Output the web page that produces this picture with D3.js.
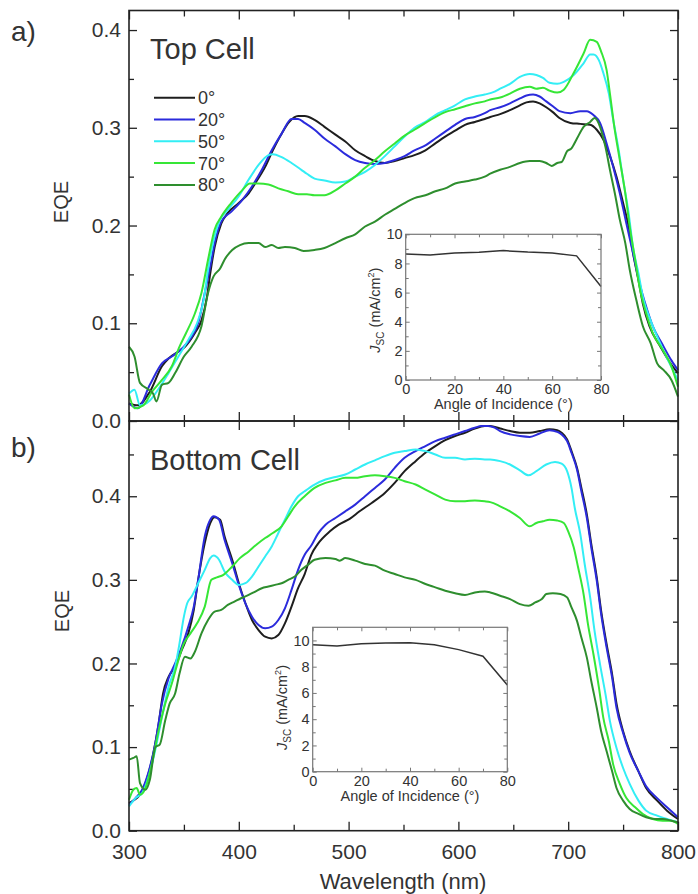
<!DOCTYPE html>
<html>
<head>
<meta charset="utf-8">
<script src="https://cdn.jsdelivr.net/npm/d3@7"></script>
<style>
  body { margin: 0; background: #fff; }
  svg { display: block; }
  text { font-family: "Liberation Sans", Arial, Helvetica, sans-serif; fill: #333; }
</style>
</head>
<body>
<script>
// ---------- data ----------
const angleLabels = ["0°", "20°", "50°", "70°", "80°"];

// EQE spectra of the top cell, [wavelength (nm), EQE]
const top0 = [[300,0.018],[308,0.016],[319,0.030],[330,0.056],[336,0.064],[345,0.071],[351,0.076],[360,0.090],[366,0.103],[371,0.127],[374,0.151],[378,0.178],[384,0.202],[390,0.213],[400,0.223],[409,0.233],[416,0.245],[424,0.260],[431,0.277],[439,0.294],[446,0.306],[454,0.312],[460,0.312],[469,0.308],[478,0.301],[488,0.293],[497,0.286],[506,0.277],[515,0.271],[524,0.266],[533,0.264],[542,0.266],[551,0.269],[560,0.272],[570,0.277],[579,0.284],[588,0.291],[597,0.297],[606,0.303],[615,0.306],[624,0.309],[629,0.311],[638,0.314],[647,0.318],[656,0.323],[662,0.326],[668,0.327],[674,0.325],[680,0.321],[686,0.316],[692,0.310],[702,0.305],[711,0.304],[720,0.303],[726,0.298],[732,0.288],[738,0.271],[744,0.250],[750,0.223],[755,0.199],[759,0.172],[764,0.144],[768,0.120],[774,0.097],[784,0.076],[793,0.059],[800,0.049]];
const top20 = [[300,0.018],[308,0.013],[319,0.037],[330,0.059],[339,0.066],[348,0.074],[357,0.086],[363,0.100],[369,0.131],[374,0.158],[378,0.182],[384,0.204],[393,0.214],[403,0.226],[412,0.240],[421,0.257],[430,0.277],[439,0.294],[448,0.309],[454,0.309],[460,0.305],[469,0.298],[478,0.289],[488,0.281],[497,0.273],[506,0.267],[515,0.264],[524,0.263],[533,0.264],[542,0.267],[551,0.271],[560,0.277],[570,0.282],[579,0.289],[588,0.296],[597,0.303],[606,0.309],[615,0.311],[624,0.315],[629,0.318],[638,0.321],[647,0.325],[656,0.330],[662,0.333],[668,0.334],[674,0.332],[680,0.327],[686,0.322],[692,0.317],[702,0.315],[711,0.317],[717,0.317],[723,0.313],[729,0.305],[735,0.284],[741,0.260],[747,0.233],[753,0.202],[759,0.172],[765,0.141],[771,0.117],[777,0.097],[786,0.078],[794,0.062],[800,0.052]];
const top50 = [[300,0.028],[305,0.032],[310,0.016],[319,0.021],[327,0.033],[336,0.049],[345,0.066],[354,0.083],[362,0.100],[368,0.124],[372,0.155],[377,0.185],[383,0.206],[390,0.216],[400,0.230],[409,0.247],[418,0.262],[427,0.272],[431,0.273],[439,0.270],[448,0.264],[457,0.257],[462,0.253],[469,0.248],[478,0.246],[488,0.244],[497,0.245],[506,0.250],[515,0.255],[524,0.262],[533,0.271],[542,0.281],[551,0.291],[560,0.300],[570,0.306],[579,0.313],[588,0.318],[597,0.323],[606,0.329],[615,0.332],[624,0.334],[633,0.337],[638,0.340],[647,0.345],[656,0.352],[665,0.355],[671,0.354],[677,0.351],[683,0.346],[690,0.345],[696,0.347],[705,0.354],[714,0.366],[720,0.375],[723,0.375],[728,0.369],[732,0.356],[737,0.335],[741,0.308],[746,0.277],[750,0.247],[755,0.213],[759,0.178],[764,0.151],[768,0.127],[775,0.103],[782,0.084],[791,0.062],[800,0.042]];
const top70 = [[300,0.027],[305,0.013],[313,0.016],[321,0.030],[330,0.042],[339,0.056],[346,0.076],[352,0.090],[360,0.110],[366,0.131],[372,0.165],[378,0.196],[384,0.209],[393,0.223],[403,0.236],[410,0.243],[418,0.243],[427,0.242],[436,0.238],[445,0.235],[454,0.232],[462,0.232],[469,0.231],[478,0.231],[488,0.236],[497,0.243],[506,0.250],[515,0.259],[524,0.267],[533,0.276],[542,0.284],[551,0.292],[560,0.298],[570,0.305],[579,0.311],[588,0.316],[597,0.319],[606,0.322],[615,0.325],[624,0.327],[629,0.329],[638,0.331],[647,0.335],[656,0.340],[665,0.342],[671,0.340],[677,0.341],[683,0.338],[690,0.336],[696,0.339],[705,0.356],[714,0.376],[720,0.390],[726,0.388],[730,0.378],[735,0.359],[738,0.335],[742,0.301],[747,0.267],[752,0.233],[756,0.199],[761,0.165],[765,0.137],[771,0.110],[777,0.090],[786,0.073],[794,0.056],[800,0.035]];
const top80 = [[300,0.076],[305,0.066],[310,0.039],[318,0.032],[322,0.028],[325,0.020],[330,0.037],[336,0.039],[342,0.049],[350,0.066],[357,0.076],[366,0.097],[372,0.131],[377,0.148],[383,0.156],[387,0.165],[394,0.175],[401,0.180],[409,0.182],[418,0.182],[424,0.178],[430,0.180],[436,0.177],[442,0.178],[451,0.177],[459,0.174],[469,0.175],[478,0.177],[488,0.182],[497,0.187],[506,0.191],[515,0.199],[524,0.204],[533,0.211],[542,0.217],[551,0.223],[560,0.228],[570,0.231],[579,0.235],[588,0.238],[597,0.243],[606,0.245],[615,0.247],[624,0.250],[629,0.253],[638,0.257],[647,0.260],[656,0.264],[665,0.266],[674,0.266],[680,0.264],[685,0.261],[690,0.264],[694,0.265],[699,0.276],[703,0.279],[708,0.289],[714,0.301],[720,0.306],[724,0.310],[729,0.301],[734,0.280],[738,0.257],[743,0.230],[747,0.206],[752,0.182],[756,0.155],[762,0.124],[768,0.097],[775,0.080],[781,0.059],[787,0.052],[794,0.042],[800,0.025]];

// EQE spectra of the bottom cell, [wavelength (nm), EQE]
const bot0 = [[300,0.033],[305,0.037],[310,0.043],[315,0.057],[321,0.085],[327,0.128],[331,0.164],[336,0.184],[342,0.196],[348,0.216],[354,0.236],[359,0.264],[363,0.300],[369,0.344],[374,0.368],[378,0.375],[383,0.372],[387,0.352],[394,0.324],[400,0.296],[406,0.272],[412,0.252],[418,0.240],[424,0.232],[430,0.230],[436,0.234],[442,0.248],[448,0.268],[454,0.290],[460,0.307],[466,0.330],[472,0.343],[483,0.358],[491,0.366],[501,0.373],[510,0.382],[521,0.392],[533,0.404],[542,0.416],[551,0.430],[561,0.442],[570,0.452],[579,0.460],[588,0.467],[597,0.472],[606,0.476],[615,0.481],[624,0.484],[629,0.484],[638,0.481],[647,0.478],[656,0.476],[665,0.476],[674,0.478],[683,0.480],[690,0.479],[694,0.476],[699,0.468],[703,0.454],[708,0.434],[712,0.410],[717,0.378],[721,0.343],[726,0.303],[730,0.263],[735,0.223],[740,0.187],[744,0.152],[750,0.119],[756,0.095],[764,0.071],[771,0.051],[781,0.036],[790,0.024],[800,0.014]];
const bot20 = [[300,0.031],[306,0.039],[312,0.049],[318,0.071],[324,0.105],[330,0.152],[336,0.182],[342,0.200],[348,0.220],[354,0.244],[359,0.268],[363,0.300],[369,0.352],[374,0.372],[377,0.376],[382,0.372],[387,0.348],[394,0.320],[400,0.294],[406,0.272],[412,0.256],[418,0.246],[424,0.242],[430,0.244],[436,0.252],[442,0.266],[448,0.288],[454,0.312],[460,0.330],[466,0.341],[472,0.355],[479,0.366],[488,0.374],[497,0.382],[506,0.390],[515,0.400],[524,0.410],[533,0.420],[542,0.434],[551,0.446],[561,0.454],[570,0.460],[579,0.466],[588,0.470],[597,0.474],[606,0.478],[615,0.482],[621,0.484],[627,0.484],[633,0.482],[638,0.478],[647,0.474],[656,0.472],[665,0.471],[674,0.475],[683,0.479],[690,0.477],[694,0.474],[699,0.466],[703,0.452],[708,0.432],[712,0.406],[717,0.374],[721,0.339],[726,0.299],[730,0.259],[735,0.219],[740,0.183],[744,0.147],[750,0.117],[756,0.093],[764,0.071],[771,0.053],[781,0.039],[790,0.028],[800,0.016]];
const bot50 = [[300,0.029],[306,0.039],[312,0.045],[318,0.065],[324,0.097],[330,0.136],[336,0.172],[342,0.196],[346,0.224],[350,0.256],[353,0.272],[357,0.280],[363,0.296],[369,0.312],[374,0.326],[377,0.329],[382,0.324],[387,0.310],[394,0.300],[400,0.294],[406,0.296],[412,0.304],[418,0.316],[424,0.328],[430,0.340],[436,0.356],[442,0.372],[448,0.388],[454,0.400],[460,0.406],[469,0.414],[479,0.420],[488,0.423],[497,0.426],[506,0.432],[515,0.438],[524,0.443],[533,0.448],[542,0.452],[551,0.454],[561,0.456],[570,0.454],[579,0.450],[588,0.446],[597,0.446],[606,0.444],[615,0.445],[624,0.444],[629,0.444],[638,0.442],[647,0.438],[656,0.431],[664,0.425],[671,0.430],[680,0.438],[688,0.441],[694,0.439],[699,0.430],[703,0.410],[706,0.386],[711,0.355],[715,0.319],[720,0.279],[724,0.239],[729,0.199],[734,0.163],[738,0.131],[744,0.099],[750,0.075],[756,0.056],[764,0.036],[771,0.024],[781,0.018],[790,0.014],[800,0.010]];
const bot70 = [[300,0.037],[304,0.049],[307,0.051],[310,0.043],[315,0.051],[321,0.081],[327,0.120],[333,0.152],[339,0.176],[345,0.204],[350,0.224],[356,0.236],[362,0.248],[369,0.268],[375,0.300],[380,0.303],[386,0.306],[394,0.316],[401,0.326],[409,0.334],[416,0.342],[424,0.350],[431,0.356],[439,0.364],[445,0.376],[451,0.388],[460,0.400],[469,0.410],[479,0.416],[488,0.419],[497,0.422],[506,0.422],[515,0.424],[524,0.425],[533,0.424],[542,0.422],[551,0.418],[561,0.414],[570,0.408],[579,0.402],[588,0.396],[597,0.394],[606,0.394],[615,0.395],[624,0.394],[629,0.393],[638,0.388],[647,0.382],[656,0.374],[665,0.364],[671,0.368],[677,0.370],[683,0.372],[690,0.371],[696,0.368],[700,0.358],[705,0.339],[709,0.315],[714,0.283],[718,0.247],[723,0.211],[728,0.171],[732,0.135],[737,0.107],[741,0.079],[747,0.056],[753,0.039],[761,0.028],[768,0.020],[777,0.014],[786,0.012],[794,0.012],[800,0.008]];
const bot80 = [[300,0.085],[304,0.087],[307,0.089],[310,0.057],[315,0.049],[319,0.061],[324,0.100],[328,0.103],[333,0.132],[337,0.152],[342,0.164],[346,0.188],[351,0.208],[356,0.206],[360,0.214],[366,0.236],[372,0.252],[378,0.262],[384,0.264],[390,0.270],[396,0.274],[402,0.278],[409,0.282],[415,0.286],[421,0.290],[427,0.292],[433,0.294],[439,0.296],[445,0.300],[451,0.304],[457,0.312],[463,0.318],[469,0.324],[479,0.326],[488,0.325],[492,0.323],[497,0.326],[506,0.323],[515,0.319],[524,0.317],[533,0.311],[542,0.307],[551,0.303],[561,0.300],[570,0.295],[579,0.291],[588,0.287],[597,0.284],[606,0.282],[615,0.285],[624,0.286],[629,0.285],[638,0.281],[647,0.277],[656,0.271],[664,0.269],[670,0.273],[676,0.277],[680,0.283],[686,0.284],[693,0.283],[699,0.279],[703,0.267],[708,0.251],[712,0.231],[717,0.207],[721,0.179],[726,0.147],[730,0.119],[735,0.095],[740,0.071],[744,0.051],[750,0.036],[756,0.026],[764,0.020],[771,0.016],[779,0.014],[786,0.014],[794,0.012],[800,0.010]];

// short-circuit current versus angle of incidence
const incidence = [0, 10, 20, 30, 40, 50, 60, 70, 80];
const jscTop    = [8.65, 8.58, 8.72, 8.76, 8.88, 8.78, 8.72, 8.52, 6.42];
const jscBottom = [9.67, 9.57, 9.75, 9.80, 9.82, 9.67, 9.30, 8.80, 6.60];

const eqeTicks = [0, 0.1, 0.2, 0.3, 0.4];
const wlTicks = [300, 400, 500, 600, 700, 800];

// ---------- drawing ----------
const seriesColors = ["#1e1e1e", "#2b2bdc", "#33eef5", "#36e636", "#2e8e2e"];
const FONT = '"Liberation Sans", Arial, Helvetica, sans-serif';

const svg = d3.select("body").append("svg").attr("width", 698).attr("height", 894);

const x = d3.scaleLinear().domain([300, 800]).range([129, 678]);
const yTop = d3.scaleLinear().domain([0, 0.42]).range([421, 10.5]);
const yBot = d3.scaleLinear().domain([0, 0.49]).range([830.7, 421]);

function addAxis(axis, tx, ty, sizeStroke) {
  const g = svg.append("g").attr("transform", `translate(${tx},${ty})`).call(axis);
  g.select(".domain").remove();
  g.selectAll("line").attr("stroke", "#222").attr("stroke-width", sizeStroke || 1.3);
  return g;
}

function drawPanel(y, seriesList, showXLabels, yLabelTicks) {
  const [y0, y1] = y.range();
  const minorY = d3.range(0.05, y.domain()[1], 0.1);
  const minorX = d3.range(350, 800, 100);
  // left axis
  addAxis(d3.axisLeft(y).tickValues(eqeTicks).tickSize(-8).tickPadding(8).tickFormat(d3.format(".1f")), x(300), 0)
    .selectAll("text").attr("font-size", 21).attr("fill", "#333").attr("font-family", FONT);
  addAxis(d3.axisLeft(y).tickValues(minorY).tickSize(-5).tickFormat(""), x(300), 0);
  // right axis
  addAxis(d3.axisRight(y).tickValues(eqeTicks).tickSize(-8).tickFormat(""), x(800), 0);
  addAxis(d3.axisRight(y).tickValues(minorY).tickSize(-5).tickFormat(""), x(800), 0);
  // bottom axis
  const gb = addAxis(d3.axisBottom(x).tickValues(wlTicks).tickSize(-9).tickPadding(13)
      .tickFormat(showXLabels ? d3.format("d") : ""), 0, y0);
  gb.selectAll("text").attr("font-size", 21).attr("fill", "#333").attr("font-family", FONT);
  addAxis(d3.axisBottom(x).tickValues(minorX).tickSize(-6).tickFormat(""), 0, y0);
  // top axis
  addAxis(d3.axisTop(x).tickValues(wlTicks).tickSize(-9).tickFormat(""), 0, y1);
  addAxis(d3.axisTop(x).tickValues(minorX).tickSize(-6).tickFormat(""), 0, y1);

  const line = d3.line().x(d => x(d[0])).y(d => y(d[1])).curve(d3.curveMonotoneX);
  seriesList.forEach((s, i) => {
    svg.append("path").datum(s).attr("fill", "none").attr("stroke", seriesColors[i])
      .attr("stroke-width", 2).attr("stroke-linejoin", "round").attr("d", line);
  });

  svg.append("rect").attr("x", x(300)).attr("y", y1).attr("width", x(800) - x(300)).attr("height", y0 - y1)
    .attr("fill", "none").attr("stroke", "#222").attr("stroke-width", 1.6);
}

drawPanel(yTop, [top0, top20, top50, top70, top80], false);
drawPanel(yBot, [bot0, bot20, bot50, bot70, bot80], true);

// panel letters, titles, axis titles
svg.append("text").attr("x", 11).attr("y", 41).attr("font-size", 28).text("a)");
svg.append("text").attr("x", 11).attr("y", 457).attr("font-size", 28).text("b)");
svg.append("text").attr("x", 150).attr("y", 59).attr("font-size", 29).text("Top Cell");
svg.append("text").attr("x", 150).attr("y", 470).attr("font-size", 29).text("Bottom Cell");
svg.append("text").attr("transform", "translate(68,202) rotate(-90)").attr("text-anchor", "middle")
  .attr("font-size", 20).text("EQE");
svg.append("text").attr("transform", "translate(69,611) rotate(-90)").attr("text-anchor", "middle")
  .attr("font-size", 20).text("EQE");
svg.append("text").attr("x", 403).attr("y", 889).attr("text-anchor", "middle").attr("font-size", 22)
  .text("Wavelength (nm)");

// legend
angleLabels.forEach((lab, i) => {
  const ly = 97.7 + i * 21.8;
  svg.append("line").attr("x1", 154).attr("x2", 195).attr("y1", ly).attr("y2", ly)
    .attr("stroke", seriesColors[i]).attr("stroke-width", 2);
  svg.append("text").attr("x", 198).attr("y", ly + 6.5).attr("font-size", 18).text(lab);
});

// insets: Jsc vs angle of incidence
function drawInset(x0, x1, yTopPx, yBotPx, yMax, values, labelX, labelDy) {
  const xi = d3.scaleLinear().domain([0, 80]).range([x0, x1]);
  const yi = d3.scaleLinear().domain([0, yMax]).range([yBotPx, yTopPx]);
  svg.append("rect").attr("x", x0).attr("y", yTopPx).attr("width", x1 - x0).attr("height", yBotPx - yTopPx)
    .attr("fill", "#fff");
  const tickCol = "#777";
  const ax = (axis, tx, ty) => {
    const g = svg.append("g").attr("transform", `translate(${tx},${ty})`).call(axis);
    g.select(".domain").remove();
    g.selectAll("line").attr("stroke", tickCol).attr("stroke-width", 1);
    g.selectAll("text").attr("font-size", 14.5).attr("fill", "#444").attr("font-family", FONT);
    return g;
  };
  const majorY = d3.range(0, 10.01, 2);
  const minorY = d3.range(1, yMax, 2);
  ax(d3.axisLeft(yi).tickValues(majorY).tickSize(-4).tickPadding(3).tickFormat(d3.format("d")), x0, 0);
  ax(d3.axisLeft(yi).tickValues(minorY).tickSize(-3).tickFormat(""), x0, 0);
  ax(d3.axisRight(yi).tickValues(majorY).tickSize(-4).tickFormat(""), x1, 0);
  ax(d3.axisRight(yi).tickValues(minorY).tickSize(-3).tickFormat(""), x1, 0);
  ax(d3.axisBottom(xi).tickValues([0, 20, 40, 60, 80]).tickSize(-4).tickPadding(4).tickFormat(d3.format("d")), 0, yBotPx);
  ax(d3.axisBottom(xi).tickValues([10, 30, 50, 70]).tickSize(-3).tickFormat(""), 0, yBotPx);
  ax(d3.axisTop(xi).tickValues([0, 20, 40, 60, 80]).tickSize(-4).tickFormat(""), 0, yTopPx);
  ax(d3.axisTop(xi).tickValues([10, 30, 50, 70]).tickSize(-3).tickFormat(""), 0, yTopPx);

  const pts = incidence.map((a, i) => [a, values[i]]);
  svg.append("path").datum(pts).attr("fill", "none").attr("stroke", "#333").attr("stroke-width", 1.5)
    .attr("d", d3.line().x(d => xi(d[0])).y(d => yi(d[1])));
  svg.append("rect").attr("x", x0).attr("y", yTopPx).attr("width", x1 - x0).attr("height", yBotPx - yTopPx)
    .attr("fill", "none").attr("stroke", tickCol).attr("stroke-width", 1.2);

  svg.append("text").attr("x", (x0 + x1) / 2).attr("y", yBotPx + 29).attr("text-anchor", "middle")
    .attr("font-size", 14.5).attr("fill", "#444").text("Angle of Incidence (°)");

  const cy = (yTopPx + yBotPx) / 2 + labelDy;
  const t = svg.append("text").attr("transform", `translate(${labelX},${cy}) rotate(-90)`)
    .attr("text-anchor", "middle").attr("font-size", 14.5).attr("fill", "#444");
  t.append("tspan").attr("font-style", "italic").text("J");
  t.append("tspan").attr("font-size", 10).attr("dy", 4).text("SC");
  t.append("tspan").attr("dy", -4).text(" (mA/cm");
  t.append("tspan").attr("font-size", 9).attr("dy", -6).text("2");
  t.append("tspan").attr("dy", 6).text(")");
}

drawInset(405.7, 601, 234.3, 380, 10, jscTop, 380, 3);
drawInset(312.7, 507.3, 627.3, 771.7, 11, jscBottom, 287, 8);
</script>
</body>
</html>
